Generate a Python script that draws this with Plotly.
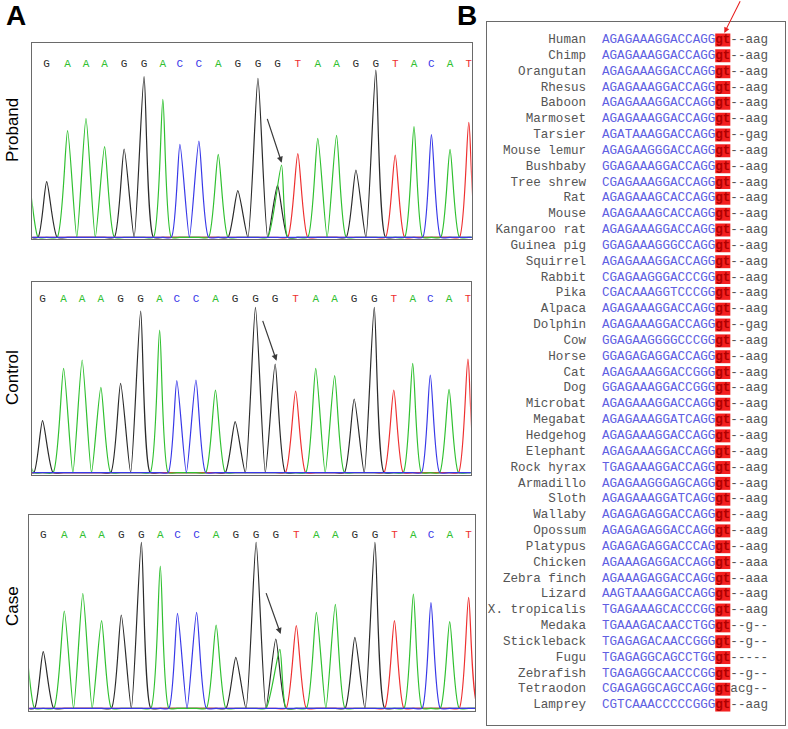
"""
Sanger chromatograms (proband / control / case) next to a cross-species
alignment of the splice donor site.
"""

import plotly.graph_objects as go

# ── Colours ──────────────────────────────────────────────────────────────────
BASE_CLR = {"G": "#2b2b2b", "A": "#30c030", "C": "#3838e8", "T": "#ee3030"}
FRAME_CLR = "#6a6a6a"
NAME_CLR = "#555555"
SEQ_CLR = "#5f5fe2"
MOTIF_BG = "#f42020"
MOTIF_CLR = "#b00000"
MONO = "Courier New, Liberation Mono, monospace"
SANS = "Liberation Sans, Arial, sans-serif"

# ── Chromatogram data ───────────────────────────────────────────────────────
# first base is the partial peak cut by the left frame edge
BASES = list("AGAAAGGACCAGGGTAAGGTACAT")
POSITIONS = [-0.9, 0.0, 1.09, 2.05, 3.02, 4.04, 5.08, 6.06, 6.95, 7.94, 8.95,
             9.97, 11.02, 12.04, 13.1, 14.14, 15.12, 16.13, 17.17, 18.18,
             19.16, 20.07, 21.04, 22.02]

PROBAND = [150, 167, 320, 357, 272, 265, 482, 414, 279, 289, 249, 140, 477,
           156, 251, 297, 306, 202, 502, 247, 332, 308, 264, 345]
CONTROL = [60, 156, 313, 338, 256, 268, 485, 428, 276, 278, 248, 153, 496,
           326, 245, 313, 291, 221, 496, 248, 328, 293, 250, 341]
CASE = [175, 170, 292, 345, 263, 280, 498, 427, 285, 288, 250, 153, 498,
        208, 248, 288, 312, 213, 498, 263, 343, 317, 260, 333]

# heterozygous peak: (index into BASES, base, position, height)
PROBAND_SECOND = (13, "A", 12.25, 217)
CASE_SECOND = (13, "A", 12.25, 177)

# arrows: (tail x, tail y, head x, head y)
PROBAND_ARROW = (11.48, 360, 12.26, 224)
CONTROL_ARROW = (11.37, 460, 12.11, 336)
CASE_ARROW = (11.51, 350, 12.29, 223)

# ── Alignment data ──────────────────────────────────────────────────────────
SPECIES = [
    "Human", "Chimp", "Orangutan", "Rhesus", "Baboon", "Marmoset", "Tarsier",
    "Mouse lemur", "Bushbaby", "Tree shrew", "Rat", "Mouse", "Kangaroo rat",
    "Guinea pig", "Squirrel", "Rabbit", "Pika", "Alpaca", "Dolphin", "Cow",
    "Horse", "Cat", "Dog", "Microbat", "Megabat", "Hedgehog", "Elephant",
    "Rock hyrax", "Armadillo", "Sloth", "Wallaby", "Opossum", "Platypus",
    "Chicken", "Zebra finch", "Lizard", "X. tropicalis", "Medaka",
    "Stickleback", "Fugu", "Zebrafish", "Tetraodon", "Lamprey",
]
UPSTREAM = [
    "AGAGAAAGGACCAGG", "AGAGAAAGGACCAGG", "AGAGAAAGGACCAGG", "AGAGAAAGGACCAGG",
    "AGAGAAAGGACCAGG", "AGAGAAAGGACCAGG", "AGATAAAGGACCAGG", "AGAGAAGGGACCAGG",
    "GGAGAAAGGACCAGG", "CGAGAAAGGACCAGG", "AGAGAAAGCACCAGG", "AGAGAAAGCACCAGG",
    "AGAGAAAGGACCAGG", "GGAGAAAGGGCCAGG", "AGAGAAAGGACCAGG", "CGAGAAGGGACCCGG",
    "CGACAAAGGTCCCGG", "AGAGAAAGGACCAGG", "AGAGAAAGGACCAGG", "GGAGAAGGGGCCCGG",
    "GGAGAGAGGACCAGG", "AGAGAAAGGACCGGG", "GGAGAAAGGACCGGG", "AGAGAAAGGACCAGG",
    "AGAGAAAGGATCAGG", "AGAGAAAGGACCAGG", "AGAGAAAGGACCAGG", "TGAGAAAGGACCAGG",
    "AGAGAAGGGAGCAGG", "AGAGAAAGGATCAGG", "AGAGAGAGGACCAGG", "AGAGAGAGGACCAGG",
    "AGAGAGAGGACCCAG", "AGAAAGAGGACCAGG", "AGAAAGAGGACCAGG", "AAGTAAAGGACCAGG",
    "TGAGAAAGCACCCGG", "TGAAAGACAACCTGG", "TGAGAGACAACCGGG", "TGAGAGGCAGCCTGG",
    "TGAGAGGCAACCCGG", "CGAGAGGCAGCCAGG", "CGTCAAACCCCCGGG",
]
MOTIF = "gt"
DOWNSTREAM = [
    "--aag", "--aag", "--aag", "--aag", "--aag", "--aag", "--gag", "--aag",
    "--aag", "--aag", "--aag", "--aag", "--aag", "--aag", "--aag", "--aag",
    "--aag", "--aag", "--gag", "--aag", "--aag", "--aag", "--aag", "--aag",
    "--aag", "--aag", "--aag", "--aag", "--aag", "--aag", "--aag", "--aag",
    "--aag", "--aaa", "--aaa", "--aag", "--aag", "--g--", "--g--", "-----",
    "--g--", "acg--", "--aag",
]


def channel_points(channel, heights, second=None):
    """Peak tops for one dye channel plus zero valleys between bases."""
    pts = []
    for i, (b, p, h) in enumerate(zip(BASES, POSITIONS, heights)):
        if b == channel:
            pts.append((p, h))
        elif second and second[0] == i and second[1] == channel:
            pts.append((second[2], second[3]))
        else:
            pts.append((p, 0))
    for a, b in zip(POSITIONS[:-1], POSITIONS[1:]):
        pts.append(((a + b) / 2, 0))
    pts.append((POSITIONS[0] - 0.5, 0))
    pts.append((POSITIONS[-1] + 0.5, 0))
    pts.append((POSITIONS[0] - 1.5, 0))
    pts.append((POSITIONS[-1] + 1.5, 0))
    pts.sort()
    return [p[0] for p in pts], [p[1] for p in pts]


fig = go.Figure()

panels = [
    ("x", "y", PROBAND, PROBAND_SECOND, PROBAND_ARROW),
    ("x2", "y2", CONTROL, None, CONTROL_ARROW),
    ("x3", "y3", CASE, CASE_SECOND, CASE_ARROW),
]

for xa, ya, heights, second, arrow in panels:
    for ch in "GTAC":
        xs, ys = channel_points(ch, heights, second)
        fig.add_trace(go.Scatter(
            x=xs, y=ys, mode="lines", xaxis=xa, yaxis=ya,
            line=dict(color=BASE_CLR[ch], width=1.2, shape="spline", smoothing=0.6),
            hoverinfo="skip",
        ))
    fig.add_trace(go.Scatter(
        x=POSITIONS[1:], y=[520] * (len(BASES) - 1), mode="text",
        text=BASES[1:], xaxis=xa, yaxis=ya,
        textfont=dict(family=MONO, size=11, color=[BASE_CLR[b] for b in BASES[1:]]),
        hoverinfo="skip",
    ))
    fig.add_annotation(
        x=arrow[2], y=arrow[3], ax=arrow[0], ay=arrow[1],
        xref=xa, yref=ya, axref=xa, ayref=ya,
        text="", showarrow=True, arrowhead=2, arrowsize=1,
        arrowwidth=1.2, arrowcolor="#3a3a3a",
    )

# ── Alignment ───────────────────────────────────────────────────────────────
rows = list(range(len(SPECIES)))
motif_start = [len(s) for s in UPSTREAM]
down_start = [len(s) + len(MOTIF) for s in UPSTREAM]

fig.add_trace(go.Bar(
    y=rows, x=[len(MOTIF)] * len(rows), base=motif_start, orientation="h",
    width=0.82, marker=dict(color=MOTIF_BG, line_width=0),
    xaxis="x4", yaxis="y4", hoverinfo="skip",
))
fig.add_trace(go.Scatter(
    x=[-2.1] * len(rows), y=rows, text=SPECIES, mode="text",
    textposition="middle left", xaxis="x4", yaxis="y4",
    textfont=dict(family=MONO, size=12.6, color=NAME_CLR), hoverinfo="skip",
))
fig.add_trace(go.Scatter(
    x=[0] * len(rows), y=rows, text=UPSTREAM, mode="text",
    textposition="middle right", xaxis="x4", yaxis="y4",
    textfont=dict(family=MONO, size=12.6, color=SEQ_CLR), hoverinfo="skip",
))
fig.add_trace(go.Scatter(
    x=motif_start, y=rows, text=[MOTIF] * len(rows), mode="text",
    textposition="middle right", xaxis="x4", yaxis="y4",
    textfont=dict(family=MONO, size=12.6, color=MOTIF_CLR, weight="bold"),
    hoverinfo="skip",
))
fig.add_trace(go.Scatter(
    x=down_start, y=rows, text=DOWNSTREAM, mode="text",
    textposition="middle right", xaxis="x4", yaxis="y4",
    textfont=dict(family=MONO, size=12.6, color=NAME_CLR), hoverinfo="skip",
))
fig.add_annotation(
    x=16.2, y=-0.45, ax=18.4, ay=-2.55, xref="x4", yref="y4",
    axref="x4", ayref="y4", text="", showarrow=True, arrowhead=2,
    arrowsize=1, arrowwidth=1.1, arrowcolor="#e82020",
)

# ── Labels ──────────────────────────────────────────────────────────────────
for txt, x in [("A", 16), ("B", 467)]:
    fig.add_annotation(
        text=f"<b>{txt}</b>", x=x / 788, y=1 - 16 / 729, xref="paper", yref="paper",
        xanchor="center", yanchor="middle", showarrow=False,
        font=dict(family=SANS, size=28, color="black"),
    )
for txt, y in [("Proband", 130), ("Control", 378), ("Case", 606)]:
    fig.add_annotation(
        text=txt, x=12 / 788, y=1 - y / 729, xref="paper", yref="paper",
        xanchor="center", yanchor="middle", showarrow=False, textangle=-90,
        font=dict(family=SANS, size=17, color="black"),
    )

frame = dict(showgrid=False, zeroline=False, showticklabels=False, ticks="",
             showline=True, mirror=True, linecolor=FRAME_CLR, linewidth=1,
             fixedrange=True)

fig.update_layout(
    width=788, height=729,
    margin=dict(l=0, r=0, t=0, b=0),
    paper_bgcolor="white", plot_bgcolor="white",
    showlegend=False,
    xaxis=dict(frame, domain=[0.041, 0.5986], range=[-0.75, 22.17]),
    yaxis=dict(frame, domain=[0.6717, 0.9414], range=[-6, 584]),
    xaxis2=dict(frame, domain=[0.041, 0.5973], range=[-0.53, 22.16], anchor="y2"),
    yaxis2=dict(frame, domain=[0.348, 0.6136], range=[-8, 573], anchor="x2"),
    xaxis3=dict(frame, domain=[0.0372, 0.6028], range=[-0.72, 22.35], anchor="y3"),
    yaxis3=dict(frame, domain=[0.0247, 0.2936], range=[-8, 580], anchor="x3"),
    xaxis4=dict(frame, domain=[0.6176, 0.9962], range=[-15.27, 24.24], anchor="y4"),
    yaxis4=dict(frame, domain=[0.0055, 0.9702], range=[43.26, -1.156], anchor="x4"),
)

# the page's default 8px body margin would shift the whole figure
fig.write_html(
    "out.html",
    config={"displayModeBar": False},
    post_script="document.body.style.margin = '0';",
)
